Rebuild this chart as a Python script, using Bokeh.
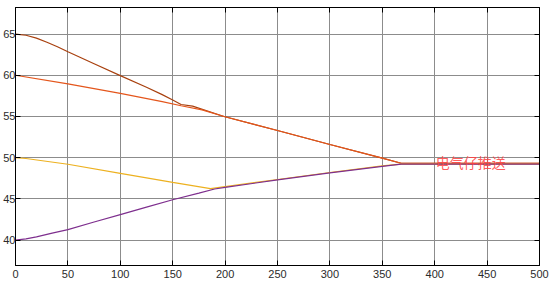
from bokeh.plotting import figure
from bokeh.models import Range1d, FixedTicker, LinearAxis, Label, CustomJSTickFormatter
from bokeh.embed import file_html
from bokeh.resources import INLINE
from bokeh.core.properties import value

# Data
brown_x = [0, 10, 20, 30, 40, 50, 75, 100, 125, 140, 150, 158, 169, 199, 250, 300, 350, 368, 500]
brown_y = [65, 64.85, 64.5, 64.0, 63.45, 62.85, 61.4, 59.95, 58.55, 57.65, 57.0, 56.45, 56.25, 55.0, 53.3, 51.6, 49.95, 49.32, 49.32]

orange_x = [0, 50, 100, 140, 158, 178, 199, 250, 300, 350, 368, 500]
orange_y = [60, 58.95, 57.8, 56.8, 56.3, 55.8, 55.0, 53.3, 51.6, 49.95, 49.32, 49.32]

yellow_x = [0, 10, 50, 100, 150, 186, 200, 250, 300, 350, 368, 500]
yellow_y = [50, 49.9, 49.2, 48.1, 47.0, 46.25, 46.5, 47.35, 48.2, 49.0, 49.22, 49.22]

purple_x = [0, 10, 20, 35, 50, 75, 100, 125, 150, 175, 190, 200, 250, 300, 350, 368, 500]
purple_y = [40, 40.15, 40.4, 40.85, 41.28, 42.2, 43.1, 44.0, 44.9, 45.7, 46.2, 46.4, 47.3, 48.15, 48.95, 49.22, 49.22]

x_ticks = [0, 50, 100, 150, 200, 250, 300, 350, 400, 450, 500]
y_ticks = [40, 45, 50, 55, 60, 65]
watermark = "电气仔推送"

p = figure(width=551, height=283, output_backend="svg", toolbar_location=None,
           x_range=Range1d(0, 500), y_range=Range1d(36.92, 68.22),
           min_border_left=14, min_border_right=12, min_border_top=7, min_border_bottom=18)
p.background_fill_color = "white"
p.border_fill_color = "white"
p.outline_line_color = "black"
p.outline_line_width = 1

for ax, ticks in ((p.xaxis[0], x_ticks), (p.yaxis[0], y_ticks)):
    ax.ticker = FixedTicker(ticks=ticks)
    ax.minor_tick_line_color = None
    ax.major_tick_in = 5
    ax.major_tick_out = 0
    ax.major_tick_line_color = "black"
    ax.axis_line_color = "black"
    ax.major_label_text_font = "Liberation Sans"
    ax.major_label_text_font_size = "11px"
    ax.major_label_text_color = "#2b2b2b"
    ax.major_label_standoff = 4
p.yaxis[0].major_label_standoff = 0

for loc, ticks in (("above", x_ticks), ("right", y_ticks)):
    ax = LinearAxis(ticker=FixedTicker(ticks=ticks),
                    formatter=CustomJSTickFormatter(code="return ''"))
    ax.major_label_standoff = 0
    ax.major_tick_in = 5
    ax.major_tick_out = 0
    ax.minor_tick_line_color = None
    ax.axis_line_color = "black"
    ax.major_tick_line_color = "black"
    p.add_layout(ax, loc)

p.xgrid.ticker = FixedTicker(ticks=x_ticks)
p.ygrid.ticker = FixedTicker(ticks=y_ticks)
p.grid.grid_line_color = "#8c8c8c"
p.grid.grid_line_width = 1

p.line(brown_x, brown_y, line_color="#A8400E", line_width=1.2)
p.line(orange_x, orange_y, line_color="#E4561C", line_width=1.2)
p.line(yellow_x, yellow_y, line_color="#EDB120", line_width=1.2)
p.line(purple_x, purple_y, line_color="#7E2F8E", line_width=1.2)

p.text(x=[401], y=[49.45], text=[watermark], text_font=value("Noto Sans CJK SC"),
       text_font_size="14px", text_color="#ff4040", text_alpha=0.85,
       text_baseline="middle", text_align="left")

icon = Label(x=525, y=255, x_units="screen", y_units="screen", text="↑",
             text_font_size="7px", text_font="DejaVu Sans", text_font_style="bold",
             border_line_color="black", background_fill_color="white",
             padding=1)
p.add_layout(icon)

open("out.html", "w").write(file_html(p, INLINE))
